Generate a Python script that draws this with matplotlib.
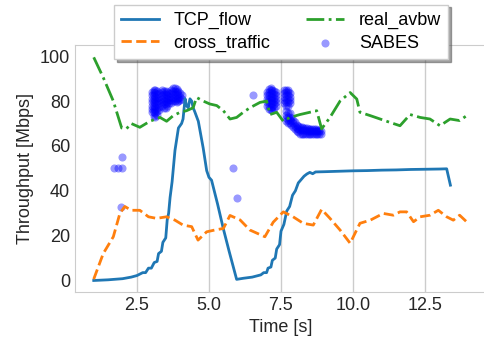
import matplotlib
matplotlib.use("Agg")
import matplotlib.pyplot as plt

# TCP flow throughput
tcp_t = [1.0, 1.5, 2.0, 2.3, 2.5, 2.7, 2.8, 2.9, 3.0, 3.1, 3.2, 3.25, 3.35, 3.4, 3.5,
         3.55, 3.6, 3.65, 3.72, 3.82, 3.94, 4.05, 4.1, 4.17, 4.22, 4.28, 4.34, 4.4,
         4.45, 4.5, 4.63, 4.8, 4.92, 5.0, 5.09, 5.3, 5.5, 5.7, 5.96, 6.2, 6.5, 6.8,
         6.9, 7.0, 7.05, 7.15, 7.2, 7.3, 7.35, 7.45, 7.5, 7.6, 7.7, 7.8, 7.9, 8.0,
         8.1, 8.2, 8.3, 8.4, 8.5, 8.6, 8.7, 9.0, 9.5, 10.0, 10.5, 11.0, 11.5, 12.0,
         12.5, 13.0, 13.25, 13.38]
tcp_v = [0.0, 0.3, 0.8, 1.5, 2.2, 3.5, 3.5, 5.5, 5.5, 8.0, 8.5, 12.0, 13.0, 17.0, 19.0,
         27.0, 30.0, 37.0, 44.0, 58.0, 68.0, 70.0, 72.0, 81.0, 78.0, 77.0, 81.0, 80.0,
         77.0, 75.5, 71.0, 59.0, 49.0, 46.0, 44.7, 34.0, 23.0, 13.0, 0.5, 1.0, 1.5, 2.5,
         3.5, 3.5, 5.5, 6.0, 9.0, 10.0, 14.0, 16.0, 22.0, 25.0, 31.0, 33.0, 38.0, 40.0,
         43.5, 45.0, 46.5, 47.5, 48.2, 47.6, 48.4, 48.5, 48.7, 48.9, 49.0, 49.2, 49.3, 49.5,
         49.6, 49.7, 49.8, 42.5]

# cross traffic
cross_t = [1.0, 1.33, 1.68, 1.91, 2.08, 2.3, 2.6, 2.9, 3.18, 3.53, 3.82, 4.1, 4.4, 4.62,
           4.92, 5.2, 5.5, 5.73, 6.08, 6.42, 6.94, 7.23, 7.58, 7.92, 8.27, 8.62, 8.91,
           9.2, 9.55, 9.9, 10.24, 10.6, 11.05, 11.4, 11.63, 11.86, 12.1, 12.33, 12.67,
           12.96, 13.25, 13.48, 13.7, 13.94]
cross_v = [0.6, 12.0, 19.5, 30.0, 33.0, 31.3, 31.3, 28.4, 27.7, 28.4, 26.9, 24.7, 24.0, 18.0,
           21.7, 22.5, 23.2, 29.0, 27.0, 22.5, 19.5, 26.0, 30.6, 28.4, 25.5, 24.7, 31.7,
           27.7, 22.5, 16.6, 25.5, 26.9, 29.9, 29.1, 30.6, 30.6, 26.2, 28.4, 29.1,
           31.3, 28.4, 26.9, 29.1, 26.2]

# real available bandwidth
avbw_t = [1.0, 1.33, 1.68, 1.8, 1.97, 2.14, 2.3, 2.6, 2.95, 3.3, 3.53, 3.76, 4.0, 4.22,
          4.45, 4.57, 4.8, 5.03, 5.27, 5.5, 5.73, 5.96, 6.19, 6.42, 6.77, 7.0, 7.12,
          7.35, 7.58, 7.81, 8.16, 8.5, 8.74, 8.91, 9.2, 9.55, 9.9, 10.13, 10.24, 10.6,
          10.94, 11.28, 11.63, 11.98, 12.33, 12.67, 13.02, 13.37, 13.7, 14.0]
avbw_v = [99.5, 90.5, 80.0, 75.0, 68.0, 67.7, 70.0, 68.3, 71.0, 72.7, 71.0, 73.5, 75.0, 75.7,
          77.0, 81.6, 80.0, 78.7, 78.0, 75.7, 72.0, 72.7, 75.0, 77.0, 79.4, 80.0, 74.0,
          75.0, 71.0, 72.7, 74.0, 75.0, 75.7, 67.6, 72.7, 80.0, 83.8, 80.9, 75.0, 73.5,
          72.0, 70.5, 69.0, 74.0, 72.7, 72.0, 69.0, 72.0, 71.3, 74.0]

# SABES estimates: isolated points
sabes_t = [1.72, 1.85, 1.97, 1.97, 1.95, 5.85, 5.99, 6.54]
sabes_v = [50.0, 50.0, 50.0, 55.0, 32.8, 50.0, 37.0, 82.6]

# SABES estimates: dense bursts, one column of estimates per time stamp
burst_t = [3.02, 3.08, 3.14, 3.20, 3.26, 3.38, 3.44, 3.50, 3.56, 3.62, 3.68, 3.76,
           3.82, 3.88, 3.94, 4.00, 4.06,
           7.02, 7.08, 7.14, 7.20, 7.26, 7.32, 7.62, 7.68, 7.74, 7.80,
           7.86, 7.92, 7.98, 8.04, 8.10, 8.16, 8.22, 8.28, 8.34, 8.40, 8.46, 8.52,
           8.58, 8.64, 8.70, 8.76, 8.82, 8.88]
burst_v = [
    [75, 76.5, 78, 79.5, 81, 82.5, 84],
    [73.5, 75, 76.5, 78, 79.5, 81, 82.5, 84, 85],
    [73, 74.5, 76, 77.5, 79, 80.5, 82, 83.5, 85],
    [74, 75.5, 77, 78.5, 80, 81.5, 83, 84.5],
    [76, 77.5, 79, 80.5, 82, 83.5],
    [78, 79.5, 81, 82.5, 84, 85],
    [77, 78.5, 80, 81.5, 83, 84.5],
    [77, 78.5, 80, 81.5, 83, 84.5],
    [78, 79.5, 81, 82.5, 84],
    [79, 80.5, 82, 83.5],
    [79, 80.5, 82, 83.5, 85],
    [80, 81.5, 83, 84.5, 86],
    [80, 81.5, 83, 84.5, 86],
    [79.5, 81, 82.5, 84, 85.5],
    [80, 81.5, 83, 84.5],
    [80.5, 82, 83.5],
    [81, 82.5],
    [78, 79.5, 81, 82.5, 84],
    [76.5, 78, 79.5, 81, 82.5, 84, 85.5],
    [76, 77.5, 79, 80.5, 82, 83.5, 85, 86],
    [76, 77.5, 79, 80.5, 82, 83.5, 85],
    [77, 78.5, 80, 81.5, 83, 84.5],
    [78, 79.5, 81, 82.5, 84],
    [79, 80.5, 82, 83.5, 85],
    [71, 72.5, 74, 75.5, 78, 79.5, 81, 82.5, 84, 85],
    [70, 71.5, 73, 74.5, 78, 79.5, 81, 82.5, 84, 85],
    [70, 71.5, 73, 74.5, 79, 80.5, 82, 83.5],
    [69.5, 71, 72.5],
    [68.5, 70, 71.5],
    [67.5, 69, 70.5],
    [66.5, 68, 69.5],
    [66, 67.5, 69],
    [65.5, 67, 68.5],
    [65.5, 67, 68.5],
    [65.5, 67, 68],
    [65.5, 67, 68],
    [65.5, 66.5, 68],
    [65.5, 66.5, 67.5],
    [65.5, 66.5, 67.5],
    [65.5, 66.5, 67.5],
    [65.5, 66.5, 67.5],
    [65.5, 66.5, 67.5],
    [65.5, 66.5, 67],
    [65.5, 66.5, 67],
    [65.5, 66.5],
]

for t, col in zip(burst_t, burst_v):
    sabes_t += [t] * len(col)
    sabes_v += col

plt.rcParams["font.family"] = ["Liberation Sans", "DejaVu Sans"]
plt.rcParams["font.size"] = 13

fig = plt.figure(figsize=(4.85, 3.49), dpi=100)
ax = fig.add_axes([75 / 485, (349 - 291.7) / 349, 412 / 485, 246.7 / 349])

ax.plot(tcp_t, tcp_v, color="#1f77b4", lw=2, label="TCP_flow")
ax.plot(cross_t, cross_v, color="#ff7f0e", lw=2, ls="--", label="cross_traffic")
ax.plot(avbw_t, avbw_v, color="#2ca02c", lw=2, ls="-.", label="real_avbw")
ax.scatter(sabes_t, sabes_v, s=34, color="#0000ff", alpha=0.4, lw=0, label="SABES")

ax.set_xlim(0.35, 14.65)
ax.set_ylim(-5, 105)
ax.set_xticks([2.5, 5.0, 7.5, 10.0, 12.5])
ax.set_yticks([0, 20, 40, 60, 80, 100])
ax.set_xlabel("Time [s]", color="0.15")
ax.set_ylabel("Throughput [Mbps]", color="0.15")
ax.tick_params(length=0, colors="0.15", labelsize=13)
ax.grid(axis="x", color="0.8", lw=1)
ax.set_axisbelow(True)
for s in ax.spines.values():
    s.set_color("0.8")

leg = ax.legend(loc="upper center", bbox_to_anchor=(0.5, 1.2), ncol=2,
                shadow=True, fancybox=False, edgecolor="0.8", fontsize=13,
                handlelength=2.1, columnspacing=2.0, borderpad=0.4, labelspacing=0.3)
leg.get_frame().set_linewidth(1)

fig.savefig("out.png", dpi=100)
plt.close()
